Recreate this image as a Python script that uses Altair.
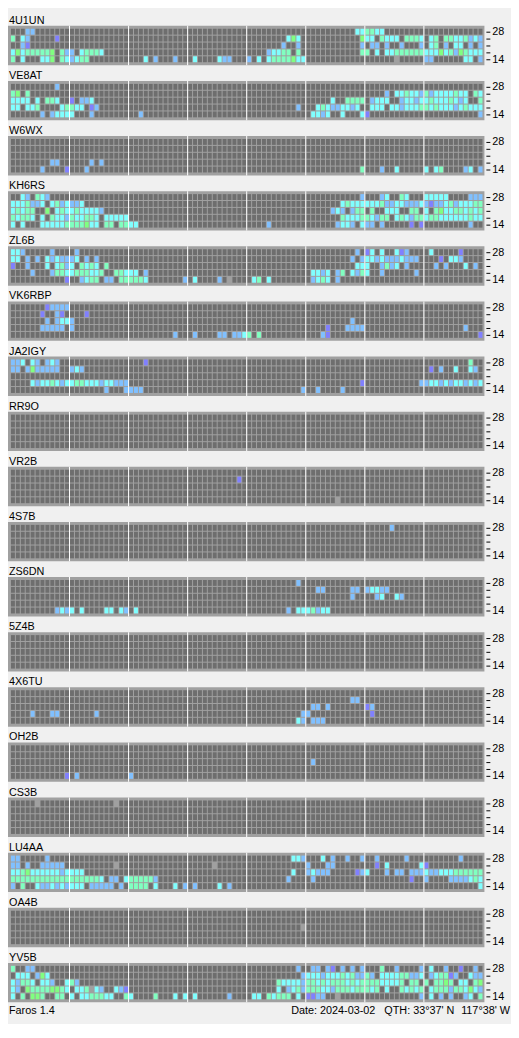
import altair as alt
import pandas as pd

alt.data_transformers.disable_max_rows()

# ---------------- data ----------------
STATIONS = ["4U1UN", "VE8AT", "W6WX", "KH6RS", "ZL6B", "VK6RBP", "JA2IGY", "RR9O",
            "VR2B", "4S7B", "ZS6DN", "5Z4B", "4X6TU", "OH2B", "CS3B", "LU4AA",
            "OA4B", "YV5B"]
BANDS = [28, 24, 21, 18, 14]          # rows, top to bottom (MHz)
BAND_LABELS = ["28", "", "", "", "14"]
SLOTS = 96                            # 15-minute slots over 24 h
SLOTS_PER_BLOCK = 12                  # white divider every 3 h

# spot codes: '.' not heard, 'x' no data, c/g/G/b/p = signal classes
SPOT_CODES = [".", "x", "c", "g", "G", "b", "p"]

# each station: one string per band row (28 .. 14); tokens "slot[-slot]code"
SPOTS_4U1UN = [
    "3b 4b 70c 71c 72g 73g 74c 75c",
    "0g 2c 3b 9p 56c 57G 58c 71G 72c 73c 75g 76-78c 80-82g 83c 85c 86g 88g 89g 90c 91c 92g 93b 94c 95b",
    "2b 3p 55b 58b 71b 73b 74b 76b 79b 83b 85c 86g 88b 90c 91c 93b 95b",
    "0c 1G 2c 3-7g 8G 10g 11b 12b 14c 15-17g 18c 52b 53c 54c 55g 56g 58g 71g 72g 74c 76c 77c 78-83g 84c 85c 86c 87G 88c 89g 90b 91G 92g 93-95c",
    "0g 2c 6c 7c 8G 10g 11c 12b 13c 14g 15g 27c 29b 33b 37c 42c 43b 44b 48b 50c 52c 53-56g 57G 58c 59c 78x 84b 85b 92c 93c 95b",
]
SPOTS_VE8AT = [
    "9b",
    "0g 1G 3g 76b 78c 79c 80g 81c 82c 83b 84g 85b 86-89c 90g 91c 92c 94g 95c",
    "0-3c 5c 7g 8g 9c 12p 14b 15b 16c 65c 68-71g 73b 74-76c 79b 80c 81c 82b 83c 84c 85g 86-88c 89g 90c 91b 92c 95g",
    "0c 1c 3c 4c 5g 10c 11g 12g 13c 14c 16p 17b 58b 62c 63g 64c 65b 66b 67c 68c 69b 70c 73c 74c 75c 77c 78c 79b 80-82c 83g 84g 85c 86g 87-89c 90b 91c 92g 93-95c",
    "6b 8b 9-12c 16b 26b 61c 62c 63b 64c 67c 71c 72p 95b",
]
SPOTS_W6WX = [
    "",
    "",
    "",
    "8b 9b 16b 18b",
    "6b 11p 15b 71g 75b 78c 84c 86c 87g 92b 93c 95b",
]
SPOTS_KH6RS = [
    "2c 3b 5g 6c 7b 71b 75b 76c 79g 80c 84-88c 93-95b",
    "0-2c 3g 4b 5b 6c 8c 9g 10b 11c 12b 13b 14c 67c 68g 69-74c 75g 76b 77b 78c 79c 80-82b 83c 84b 85p 86b 87b 88c 89g 90b 91-93c 94g 95g",
    "0c 1g 2c 3g 4g 7G 9c 10g 11c 12c 13g 14-17c 18b 65b 66c 67b 69b 70g 71g 73g 76-78c 81g 82g 84c 86g 87G 88c 89c 90g 91g 92c 93g 94c 95g",
    "0g 1c 2g 3g 4c 6c 8g 9c 10c 11b 12g 13c 14c 15g 16g 17c 19-23c 67g 68-70c 71g 72g 73c 74b 75g 76g 78c 79g 80c 81b 82g 83g 84c 85g 86g 87-92c 93g 94c 95c",
    "0c 2c 6-10c 11-14g 15G 16c 17c 19g 20g 22g 23g 24c 25c 52b 66b 67c 68c 69b 71c 72b 73b 75b 81p 83p 93b",
]
SPOTS_ZL6B = [
    "0c 1c 2b 8b 13b 70b 72p 73c 75c 78c 79p 80b 85c 91p",
    "0c 1c 3b 5b 7c 8b 9c 10b 11b 12b 13c 15b 17b 69b 71b 72c 73c 74b 75c 76b 77b 78b 79c 80-82b 87p 89c 90c 91b",
    "0p 3b 7c 9c 10g 11b 12c 14g 15c 16g 17c 19g 70-72c 75b 76g 77b 78c 80b 86b 88b 92c 94b",
    "4b 8b 9g 10g 11c 12c 13-15g 16c 17c 18g 21g 22g 23-25c 27b 61c 62c 63b 64c 66b 67g 69c 70b 71g 72c 75b 82b",
    "11p 14b 15c 16g 17g 19b 20b 22-26g 27c 35b 37c 42b 44x 49c 50g 52c 61b 62c 63g 64c 66b",
]
SPOTS_VK6RBP = [
    "7p 8-11b",
    "6p 9b 10p 15p",
    "7b 9b 10c 11c 12b 69b",
    "6-10b 12b 64p 68-71b 92b",
    "33b 37b 42b 43b 45b 46b 47c 48g 50g 63b 64p 95p",
]
SPOTS_JA2IGY = [
    "0b 1b 2c 4c 5b 7b 8c 9b 27p 93g",
    "0b 1b 3b 4G 5-9b 12b 13c 14b 85p 87b 90c 93c 94b",
    "",
    "4c 5b 6c 7c 8g 9c 10b 11c 12c 13g 14g 15-17c 18b 19c 20c 21-23b 71p 83b 84b 85c 86c 87b 88c 89b 90c 91c 92b 93c 94b 95c",
    "19b 23-26b 59b 62b 67b",
]
SPOTS_RR9O = ["", "", "", "", ""]
SPOTS_VR2B = ["", "46p", "", "", "66x"]
SPOTS_4S7B = ["77b", "", "", "", ""]
SPOTS_ZS6DN = [
    "58b",
    "62b 63b 69b 70b 72b 73c 74c 75b 76b",
    "69b 74b 75c 78c 79b",
    "",
    "9b 10c 11b 12c 14c 19c 20c 22c 23b 25c 56b 58-60c 61g 62b 63c 64c",
]
SPOTS_5Z4B = ["", "", "", "", ""]
SPOTS_4X6TU = [
    "",
    "69b 70b",
    "61b 62b 64b 72p 73b",
    "4b 8b 9b 17b 59b 60b 73p",
    "58c 59b 61b 62b 63b",
]
SPOTS_OH2B = ["", "", "61b", "", "11p 13b 24b"]
SPOTS_CS3B = ["5x 21x", "", "", "", ""]
SPOTS_LU4AA = [
    "0b 1b 7b 57c 58c 59b 63c 65b 68b 71b 74b 80b 91b",
    "0b 1b 3b 6-10b 21x 41x 60b 64b 65b 74p 76c 83c 84p",
    "0c 1c 2g 3G 4-9c 10b 11-14c 57c 60b 61c 62-64b 70p 71b 72c 76b 78b 79b 81-83b 84c 85b 86b 87-89c 90-95g",
    "0-17g 18c 20b 21b 23c 24-28g 29b 56b 61b 81p 84b 89-92b 93c 94g 95c",
    "0b 2g 5c 6b 7b 8c 9b 10c 11b 12-14c 16-20b 22b 24-27g 29c 33c 35b 37b 42c 44b 95c",
]
SPOTS_OA4B = ["", "", "59x", "", ""]
SPOTS_YV5B = [
    "0g 3b 4b 58b 61b 62b 64b 65p 67b 69b 71b 75g 78b 83b 85c 88b 91p 94b",
    "1c 2c 3c 5b 6G 7c 59b 60-62c 63b 64-66c 67g 68c 69g 70b 71b 72g 73b 75-78c 79g 80g 81b 82b 83c 85b 86c 87g 88g 89p 90b 93c 94b 95b",
    "0c 1b 2g 3g 4c 6c 7c 8b 11c 12g 13b 54g 55-58c 59b 60g 61g 62c 63g 64c 65-67g 68c 69g 70c 71-74g 75-78c 79g 81g 82g 84g 86g 87g 88G 89g 91c 92c 94g 95G",
    "0c 1b 3G 4-7g 8G 9G 10g 11c 13c 14c 15g 16x 17c 18b 21c 22b 23p 54c 56b 57c 58g 59b 60-62g 63c 64c 65b 66-68g 69c 70-72g 73c 74g 76c 79g 80c 81g 82c 83g 85c 86-88g 89b 90g 91g 92c 93G 94c 95b",
    "0c 2g 4G 5G 6g 9g 10g 12c 14c 15c 16-18g 19c 20c 23g 24c 29g 33c 35c 37c 44b 49c 50c 52g 53c 54-56g 58c 60p 61p 62b 63b 66x 83b 85c 87b 89b 92b 93c 95g",
]
SPOTS = {
    "4U1UN": SPOTS_4U1UN, "VE8AT": SPOTS_VE8AT, "W6WX": SPOTS_W6WX,
    "KH6RS": SPOTS_KH6RS, "ZL6B": SPOTS_ZL6B, "VK6RBP": SPOTS_VK6RBP,
    "JA2IGY": SPOTS_JA2IGY, "RR9O": SPOTS_RR9O, "VR2B": SPOTS_VR2B,
    "4S7B": SPOTS_4S7B, "ZS6DN": SPOTS_ZS6DN, "5Z4B": SPOTS_5Z4B,
    "4X6TU": SPOTS_4X6TU, "OH2B": SPOTS_OH2B, "CS3B": SPOTS_CS3B,
    "LU4AA": SPOTS_LU4AA, "OA4B": SPOTS_OA4B, "YV5B": SPOTS_YV5B,
}
FOOTER_LEFT_TEXTS = ["Faros 1.4", "Date: 2024-03-02", "QTH: 33\u00b037' N"]
FOOTER_RIGHT_TEXTS = ["117\u00b038' W"]

# ---------------- styles / layout ----------------
SPOT_COLORS = ["#6e6e6e", "#a0a0a0", "#80ffff", "#80ffc0", "#80ff80", "#80c0ff", "#8080ff"]
BOX_COLOR = "#a0a0a0"
BG = "#f0f0f0"
FONT = "Liberation Sans"
PLOT_W, PLOT_H = 484, 1016
ROWS_PER_PANEL = 8          # panel pitch in band-row units (8 x 7 px)
X_DOMAIN = [-0.6, 96.2]     # 5 px per slot
Y_DOMAIN = [-16 / 7, 1000 / 7]  # 7 px per band row
TICK_X = [X_DOMAIN[1] + 0.4, X_DOMAIN[1] + 1.2]
TICK_LABEL_X = X_DOMAIN[1] + 1.6
FOOTER_LEFT_X = [-0.6, 56.74, 75.66]
FOOTER_RIGHT_X = [101.4]
FOOTER_Y = 998 / 7


def parse(row):
    out = {}
    for tok in row.split():
        code, rng = tok[-1], tok[:-1]
        if "-" in rng:
            a, b = (int(v) for v in rng.split("-"))
        else:
            a = b = int(rng)
        for k in range(a, b + 1):
            out[k] = code
    return out


recs = []
for p, st in enumerate(STATIONS):
    for r, row in enumerate(SPOTS[st]):
        got = parse(row)
        for s in range(SLOTS):
            recs.append({"panel": p, "row": r, "slot": s, "code": got.get(s, ".")})
cells_df = pd.DataFrame(recs)
panels_df = pd.DataFrame({"panel": range(len(STATIONS)), "station": STATIONS})
div_df = pd.DataFrame([{"panel": p, "block": b}
                       for p in range(len(STATIONS))
                       for b in range(1, SLOTS // SLOTS_PER_BLOCK)])
tick_df = pd.DataFrame([{"panel": p, "row": r, "label": BAND_LABELS[r]}
                        for p in range(len(STATIONS)) for r in range(len(BANDS))])
foot_l_df = pd.DataFrame({"text": FOOTER_LEFT_TEXTS, "fx": FOOTER_LEFT_X})
foot_r_df = pd.DataFrame({"text": FOOTER_RIGHT_TEXTS, "fx": FOOTER_RIGHT_X})

XS = alt.Scale(domain=X_DOMAIN, nice=False, zero=False)
YS = alt.Scale(domain=Y_DOMAIN, nice=False, zero=False, reverse=True)

boxes = alt.Chart(panels_df).transform_calculate(
    x0=f"{X_DOMAIN[0]}", x1=f"{X_DOMAIN[1]}",
    y0=f"datum.panel*{ROWS_PER_PANEL} - 6/7", y1=f"datum.panel*{ROWS_PER_PANEL} + 34/7",
).mark_rect(color=BOX_COLOR).encode(
    x=alt.X("x0:Q", scale=XS, axis=None), x2="x1:Q",
    y=alt.Y("y0:Q", scale=YS, axis=None), y2="y1:Q",
)

cells = alt.Chart(cells_df).transform_calculate(
    x1="datum.slot + 0.8",
    yc=f"datum.panel*{ROWS_PER_PANEL} + datum.row",
    y0="datum.yc - 3/7", y1="datum.yc + 3/7",
).mark_rect().encode(
    x=alt.X("slot:Q", scale=XS, axis=None), x2="x1:Q",
    y=alt.Y("y0:Q", scale=YS, axis=None), y2="y1:Q",
    color=alt.Color("code:N", scale=alt.Scale(domain=SPOT_CODES, range=SPOT_COLORS), legend=None),
)

dividers = alt.Chart(div_df).transform_calculate(
    x0=f"datum.block*{SLOTS_PER_BLOCK} - 0.2", x1=f"datum.block*{SLOTS_PER_BLOCK}",
    y0=f"datum.panel*{ROWS_PER_PANEL} - 6/7", y1=f"datum.panel*{ROWS_PER_PANEL} + 34/7",
).mark_rect(color="#ffffff").encode(
    x=alt.X("x0:Q", scale=XS, axis=None), x2="x1:Q",
    y=alt.Y("y0:Q", scale=YS, axis=None), y2="y1:Q",
)

ticks = alt.Chart(tick_df).transform_calculate(
    tx0=f"{TICK_X[0]}", tx1=f"{TICK_X[1]}",
    ty=f"datum.panel*{ROWS_PER_PANEL} + datum.row + 1/14",
).mark_rule(color="#000000", strokeWidth=1).encode(
    x=alt.X("tx0:Q", scale=XS, axis=None), x2="tx1:Q",
    y=alt.Y("ty:Q", scale=YS, axis=None),
)

tick_labels = alt.Chart(tick_df).transform_filter("datum.label != ''").transform_calculate(
    lx=f"{TICK_LABEL_X}",
    ly=f"datum.panel*{ROWS_PER_PANEL} + datum.row + 1/14",
).mark_text(align="left", baseline="middle", font=FONT, fontSize=11,
            color="#000000").encode(
    x=alt.X("lx:Q", scale=XS, axis=None),
    y=alt.Y("ly:Q", scale=YS, axis=None),
    text="label:N",
)

labels = alt.Chart(panels_df).transform_calculate(
    lx=f"{X_DOMAIN[0]}", ly=f"datum.panel*{ROWS_PER_PANEL} - 8/7",
).mark_text(align="left", baseline="alphabetic", dx=1, font=FONT, fontSize=11,
            color="#000000").encode(
    x=alt.X("lx:Q", scale=XS, axis=None),
    y=alt.Y("ly:Q", scale=YS, axis=None),
    text="station:N",
)

footer_l = alt.Chart(foot_l_df).transform_calculate(
    fy=f"{FOOTER_Y}",
).mark_text(align="left", baseline="alphabetic", dx=1, font=FONT, fontSize=11,
            color="#000000").encode(
    x=alt.X("fx:Q", scale=XS, axis=None),
    y=alt.Y("fy:Q", scale=YS, axis=None),
    text="text:N",
)

footer_r = alt.Chart(foot_r_df).transform_calculate(
    fy=f"{FOOTER_Y}",
).mark_text(align="right", baseline="alphabetic", font=FONT, fontSize=11,
            color="#000000").encode(
    x=alt.X("fx:Q", scale=XS, axis=None),
    y=alt.Y("fy:Q", scale=YS, axis=None),
    text="text:N",
)

chart = alt.layer(boxes, cells, dividers, ticks, tick_labels, labels,
                  footer_l, footer_r).properties(
    width=PLOT_W, height=PLOT_H,
    autosize=alt.AutoSizeParams(type="none"),
    padding={"left": 0, "top": 0, "right": 27, "bottom": 0},
    background=BG,
).configure_view(stroke=None)

chart.save("out.html", embed_options={"renderer": "svg", "actions": False})
